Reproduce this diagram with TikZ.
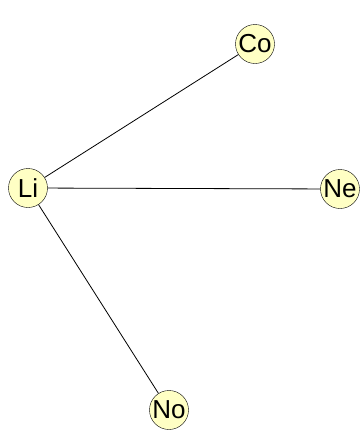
\documentclass[tikz,border=0pt]{standalone}
\usepackage{fontspec}
\setmainfont{Liberation Sans}
\usepackage{tikz}
\usetikzlibrary{positioning,calc}
\usepackage{xcolor}
\definecolor{paleyellow}{HTML}{FFFFC4}

\begin{document}
\begin{tikzpicture}[x=1pt, y=-1pt,
    atom/.style={circle, draw, fill=paleyellow, inner sep=0pt, minimum size=39pt, font=\fontsize{26}{28}\selectfont},
    bond/.style={draw, line width=0.8pt}]
  \useasboundingbox (0,0) rectangle (360,437);
  \node[atom] (li) at (28,188) {Li};
  \node[atom] (co) at (255,44) {Co};
  \node[atom] (ne) at (340,189) {Ne};
  \node[atom] (no) at (169,410) {No};
  \draw[bond] (li) -- (co);
  \draw[bond] (li) -- (ne);
  \draw[bond] (li) -- (no);
\end{tikzpicture}
\end{document}
